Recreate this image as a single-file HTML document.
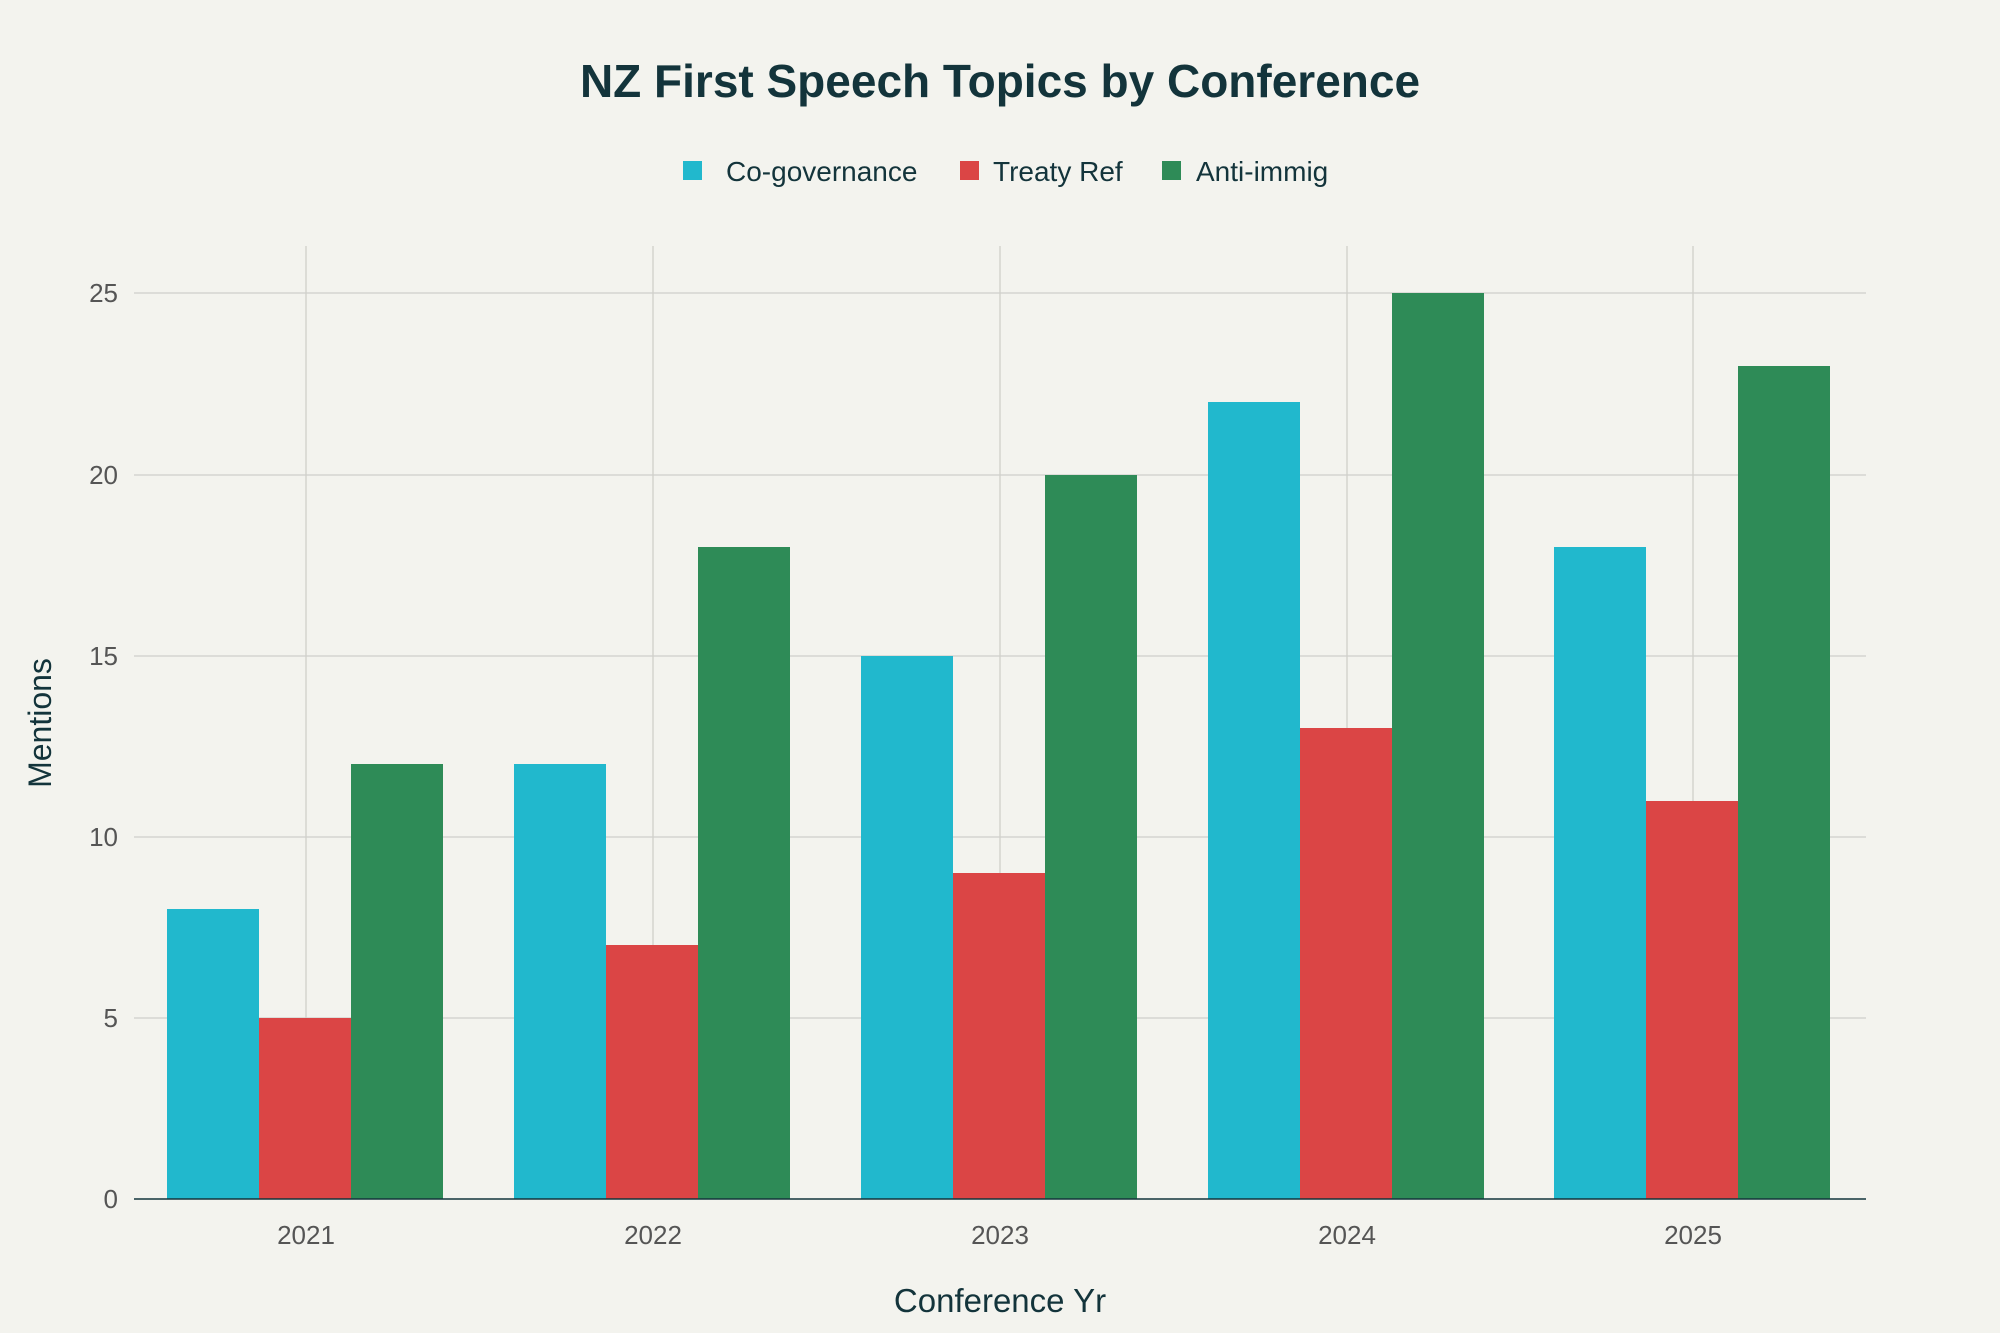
<!DOCTYPE html>
<html><head><meta charset="utf-8"><style>
html,body{margin:0;padding:0;background:#F3F3EE;}
svg{display:block;font-family:"Liberation Sans",sans-serif;}
</style></head><body>
<svg width="2000" height="1333" viewBox="0 0 2000 1333">
<rect width="2000" height="1333" fill="#F3F3EE"/>
<text x="1000" y="97" text-anchor="middle" font-size="46" font-weight="bold" fill="#13343B">NZ First Speech Topics by Conference</text>
<rect x="683" y="161" width="19" height="19" fill="#21B8CD"/>
<text x="726" y="181" font-size="28" fill="#13343B">Co-governance</text>
<rect x="960" y="161" width="19" height="19" fill="#DB4545"/>
<text x="993" y="181" font-size="28" fill="#13343B">Treaty Ref</text>
<rect x="1162" y="161" width="19" height="19" fill="#2E8B57"/>
<text x="1196" y="181" font-size="28" fill="#13343B">Anti-immig</text>
<g stroke="#cfcfca" stroke-width="1.3">
<line x1="134" x2="1866" y1="1018" y2="1018"/>
<line x1="134" x2="1866" y1="837" y2="837"/>
<line x1="134" x2="1866" y1="656" y2="656"/>
<line x1="134" x2="1866" y1="475" y2="475"/>
<line x1="134" x2="1866" y1="293" y2="293"/>
<line x1="306" x2="306" y1="246" y2="1199"/>
<line x1="653" x2="653" y1="246" y2="1199"/>
<line x1="1000" x2="1000" y1="246" y2="1199"/>
<line x1="1347" x2="1347" y1="246" y2="1199"/>
<line x1="1693" x2="1693" y1="246" y2="1199"/>
</g>
<g font-size="26" fill="#555" text-anchor="end">
<text x="118" y="1208">0</text><text x="118" y="1027">5</text><text x="118" y="846">10</text><text x="118" y="665">15</text><text x="118" y="484">20</text><text x="118" y="302">25</text>
</g>
<g>
<rect x="167" y="909" width="92" height="290" fill="#21B8CD"/>
<rect x="259" y="1018" width="92" height="181" fill="#DB4545"/>
<rect x="351" y="764" width="92" height="435" fill="#2E8B57"/>
<rect x="514" y="764" width="92" height="435" fill="#21B8CD"/>
<rect x="606" y="945" width="92" height="254" fill="#DB4545"/>
<rect x="698" y="547" width="92" height="652" fill="#2E8B57"/>
<rect x="861" y="656" width="92" height="543" fill="#21B8CD"/>
<rect x="953" y="873" width="92" height="326" fill="#DB4545"/>
<rect x="1045" y="475" width="92" height="724" fill="#2E8B57"/>
<rect x="1208" y="402" width="92" height="797" fill="#21B8CD"/>
<rect x="1300" y="728" width="92" height="471" fill="#DB4545"/>
<rect x="1392" y="293" width="92" height="906" fill="#2E8B57"/>
<rect x="1554" y="547" width="92" height="652" fill="#21B8CD"/>
<rect x="1646" y="801" width="92" height="398" fill="#DB4545"/>
<rect x="1738" y="366" width="92" height="833" fill="#2E8B57"/>
</g>
<line x1="134" x2="1866" y1="1199" y2="1199" stroke="#13343B" stroke-width="1.5"/>
<g font-size="26" fill="#555" text-anchor="middle">
<text x="306" y="1244">2021</text><text x="653" y="1244">2022</text><text x="1000" y="1244">2023</text><text x="1347" y="1244">2024</text><text x="1693" y="1244">2025</text>
</g>
<text x="1000" y="1312" text-anchor="middle" font-size="33" fill="#13343B">Conference Yr</text>
<text x="51" y="723" text-anchor="middle" font-size="32" fill="#13343B" transform="rotate(-90 51 723)">Mentions</text>
</svg>
</body></html>
